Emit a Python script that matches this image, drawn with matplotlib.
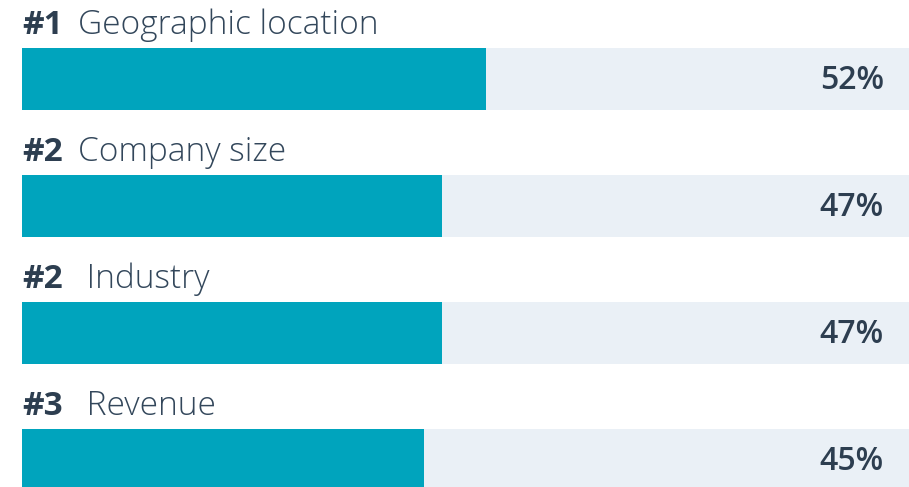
import matplotlib.pyplot as plt
import numpy as np

ranks = ["#1", "#2", "#2", "#3"]
factors = ["Geographic location", "Company size", " Industry", " Revenue"]
shares = [52, 47, 47, 45]

teal = "#00a4bd"
track = "#eaf0f6"
ink = "#2d3e50"

W, H = 909, 487
px = 8.93  # pixels per percentage point

fig = plt.figure(figsize=(W / 100, H / 100), dpi=100)
ax = fig.add_axes([0, 0, 1, 1])
ax.set_xlim(-22 / px, (W - 22) / px)
ax.set_ylim(H, 0)
ax.axis("off")

rows = 79 + 127 * np.arange(len(shares))
ax.barh(rows, 100, height=62, left=0, color=track)
ax.barh(rows, shares, height=62, left=0, color=teal)

for y, r, f, v in zip(rows, ranks, factors, shares):
    base = y - 31 - 14
    ax.text(0, base, r, fontsize=24, fontweight="bold", color=ink,
            family="Open Sans", va="baseline", ha="left")
    ax.text((78 - 22) / px, base, f, fontsize=24, fontweight="light",
            color="#33475b", family="Open Sans", va="baseline", ha="left")
    ax.text((884 - 22) / px, y + 10, f"{v}%", fontsize=23, fontweight="semibold",
            color=ink, family="Open Sans", va="baseline", ha="right")

fig.savefig("out.png", dpi=100)
